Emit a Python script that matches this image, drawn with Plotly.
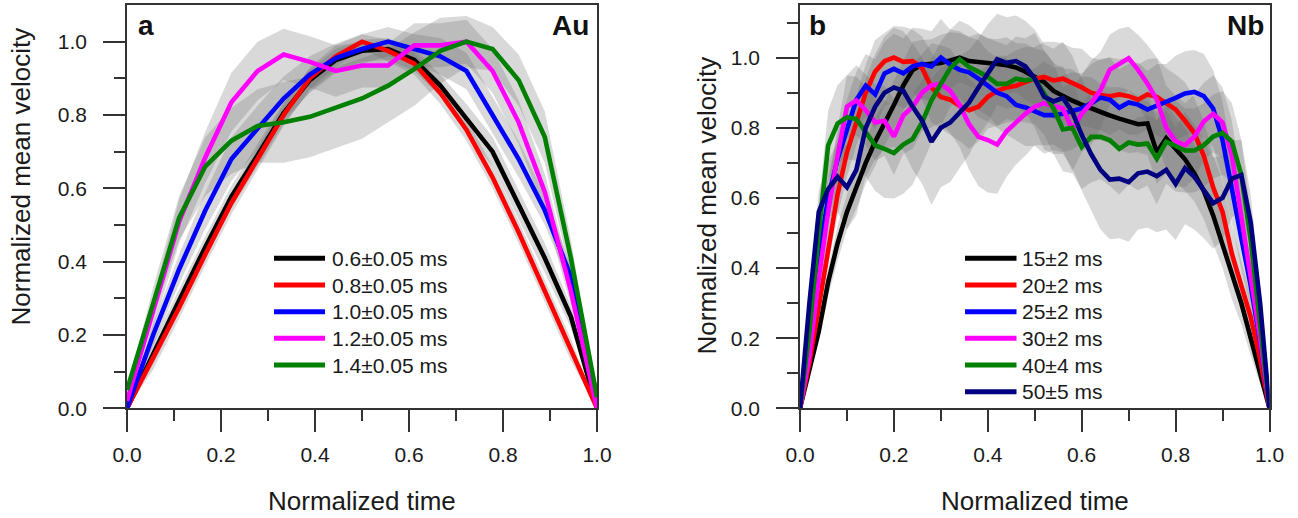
import numpy as np
import plotly.graph_objects as go

W, H = 1298, 518

# ---------------- Panel a : Au ----------------
au_t = [0.0, 0.0556, 0.1111, 0.1667, 0.2222, 0.2778, 0.3333, 0.3889, 0.4444, 0.5,
        0.5556, 0.6111, 0.6667, 0.7222, 0.7778, 0.8333, 0.8889, 0.9444, 1.0]
au_labels = ["0.6\u00b10.05 ms", "0.8\u00b10.05 ms", "1.0\u00b10.05 ms", "1.2\u00b10.05 ms", "1.4\u00b10.05 ms"]
au_06 = [0.0, 0.15, 0.295, 0.44, 0.577, 0.69, 0.805, 0.895, 0.95, 0.975, 0.98, 0.95, 0.88, 0.79, 0.70, 0.555, 0.41, 0.25, 0.0]
au_08 = [0.0, 0.135, 0.275, 0.42, 0.56, 0.68, 0.80, 0.90, 0.96, 1.0, 0.975, 0.94, 0.86, 0.76, 0.63, 0.48, 0.32, 0.16, 0.0]
au_10 = [0.0, 0.20, 0.38, 0.54, 0.68, 0.765, 0.845, 0.91, 0.955, 0.98, 1.0, 0.98, 0.96, 0.92, 0.80, 0.68, 0.54, 0.36, 0.03]
au_12 = [0.02, 0.26, 0.51, 0.685, 0.835, 0.92, 0.965, 0.945, 0.92, 0.935, 0.935, 0.99, 0.99, 1.0, 0.92, 0.78, 0.59, 0.32, 0.0]
au_14 = [0.05, 0.29, 0.52, 0.66, 0.73, 0.77, 0.78, 0.795, 0.82, 0.845, 0.88, 0.925, 0.975, 1.0, 0.98, 0.895, 0.74, 0.41, 0.03]
au_06_sd = [0.0, 0.03, 0.03, 0.03, 0.03, 0.03, 0.03, 0.03, 0.03, 0.03, 0.03, 0.03, 0.03, 0.04, 0.04, 0.04, 0.04, 0.03, 0.0]
au_08_sd = [0.0, 0.03, 0.03, 0.03, 0.03, 0.03, 0.03, 0.03, 0.03, 0.02, 0.03, 0.03, 0.03, 0.03, 0.03, 0.03, 0.03, 0.03, 0.0]
au_10_sd = [0.0, 0.03, 0.04, 0.05, 0.06, 0.06, 0.06, 0.05, 0.04, 0.04, 0.04, 0.04, 0.05, 0.05, 0.05, 0.05, 0.04, 0.03, 0.0]
au_12_sd = [0.0, 0.04, 0.06, 0.07, 0.08, 0.08, 0.07, 0.07, 0.07, 0.06, 0.06, 0.06, 0.06, 0.06, 0.06, 0.06, 0.05, 0.04, 0.0]
au_14_sd = [0.0, 0.04, 0.06, 0.08, 0.09, 0.10, 0.11, 0.11, 0.11, 0.11, 0.10, 0.10, 0.09, 0.07, 0.06, 0.07, 0.07, 0.05, 0.0]

# ---------------- Panel b : Nb ----------------
nb_t = [0.0, 0.02, 0.04, 0.06, 0.08, 0.10, 0.12, 0.14, 0.16, 0.18, 0.20, 0.22, 0.24, 0.26, 0.28,
        0.30, 0.32, 0.34, 0.36, 0.38, 0.40, 0.42, 0.44, 0.46, 0.48, 0.50, 0.52, 0.54, 0.56, 0.58,
        0.60, 0.62, 0.64, 0.66, 0.68, 0.70, 0.72, 0.74, 0.76, 0.78, 0.80, 0.82, 0.84, 0.86, 0.88,
        0.90, 0.92, 0.94, 0.96, 0.98, 1.0]
nb_labels = ["15\u00b12 ms", "20\u00b12 ms", "25\u00b12 ms", "30\u00b12 ms", "40\u00b14 ms", "50\u00b15 ms"]
nb_15 = [0.0, 0.11, 0.22, 0.36, 0.47, 0.56, 0.63, 0.70, 0.76, 0.81, 0.865, 0.92, 0.965, 0.98, 0.982,
         0.985, 0.992, 1.0, 0.99, 0.988, 0.985, 0.982, 0.978, 0.972, 0.96, 0.945, 0.93, 0.905, 0.89, 0.877,
         0.866, 0.855, 0.845, 0.835, 0.826, 0.818, 0.81, 0.812, 0.73, 0.77, 0.74, 0.71, 0.67, 0.62, 0.55,
         0.47, 0.38, 0.30, 0.20, 0.10, 0.0]
nb_20 = [0.0, 0.13, 0.29, 0.46, 0.61, 0.73, 0.82, 0.90, 0.96, 0.99, 1.0, 0.988, 0.99, 0.97, 0.915,
         0.888, 0.88, 0.862, 0.85, 0.86, 0.888, 0.905, 0.915, 0.92, 0.93, 0.94, 0.945, 0.935, 0.94, 0.928,
         0.915, 0.90, 0.893, 0.89, 0.895, 0.89, 0.88, 0.895, 0.888, 0.87, 0.852, 0.82, 0.785, 0.72, 0.63,
         0.56, 0.44, 0.35, 0.26, 0.14, 0.0]
nb_25 = [0.0, 0.20, 0.43, 0.60, 0.71, 0.80, 0.88, 0.92, 0.895, 0.955, 0.968, 0.955, 0.975, 0.982, 0.975,
         1.0, 0.98, 0.965, 0.958, 0.94, 0.918, 0.90, 0.89, 0.865, 0.858, 0.848, 0.836, 0.836, 0.84, 0.848,
         0.855, 0.87, 0.886, 0.88, 0.857, 0.872, 0.866, 0.852, 0.862, 0.872, 0.885, 0.898, 0.902, 0.89, 0.855,
         0.765, 0.62, 0.485, 0.35, 0.19, 0.0]
nb_30 = [0.0, 0.15, 0.37, 0.56, 0.72, 0.86, 0.878, 0.85, 0.815, 0.82, 0.775, 0.835, 0.86, 0.90, 0.921,
         0.925, 0.905, 0.865, 0.81, 0.774, 0.765, 0.752, 0.79, 0.815, 0.84, 0.86, 0.87, 0.862, 0.855, 0.795,
         0.84, 0.87, 0.907, 0.966, 0.982, 0.998, 0.965, 0.926, 0.88, 0.80, 0.762, 0.75, 0.775, 0.818, 0.84,
         0.815, 0.72, 0.55, 0.38, 0.20, 0.0]
nb_40 = [0.0, 0.22, 0.50, 0.75, 0.812, 0.83, 0.825, 0.79, 0.75, 0.74, 0.728, 0.752, 0.768, 0.815, 0.878,
         0.925, 0.97, 0.995, 0.973, 0.96, 0.945, 0.925, 0.925, 0.94, 0.935, 0.94, 0.90, 0.855, 0.795, 0.80,
         0.745, 0.774, 0.774, 0.764, 0.74, 0.758, 0.752, 0.755, 0.712, 0.76, 0.748, 0.735, 0.735, 0.75, 0.775,
         0.785, 0.76, 0.665, 0.48, 0.25, 0.0]
nb_50 = [0.0, 0.30, 0.56, 0.625, 0.66, 0.63, 0.68, 0.80, 0.86, 0.90, 0.915, 0.905, 0.86, 0.82, 0.76,
         0.80, 0.815, 0.845, 0.872, 0.915, 0.955, 0.995, 0.985, 0.99, 0.975, 0.94, 0.888, 0.875, 0.885, 0.845,
         0.78, 0.725, 0.68, 0.652, 0.655, 0.645, 0.67, 0.675, 0.662, 0.68, 0.64, 0.685, 0.66, 0.625, 0.585,
         0.60, 0.655, 0.665, 0.53, 0.30, 0.0]
nb_15_sd = [0.0, 0.02, 0.03, 0.04, 0.05, 0.05, 0.06, 0.06, 0.07, 0.06, 0.07, 0.07, 0.08, 0.07, 0.07,
            0.08, 0.08, 0.07, 0.07, 0.08, 0.07, 0.07, 0.08, 0.07, 0.08, 0.08, 0.09, 0.08, 0.08, 0.09,
            0.08, 0.09, 0.08, 0.08, 0.09, 0.09, 0.08, 0.09, 0.09, 0.10, 0.09, 0.09, 0.08, 0.08, 0.08,
            0.07, 0.07, 0.06, 0.05, 0.03, 0.0]
nb_20_sd = [0.0, 0.03, 0.04, 0.05, 0.06, 0.07, 0.07, 0.08, 0.09, 0.08, 0.09, 0.10, 0.09, 0.09, 0.10,
            0.09, 0.10, 0.10, 0.11, 0.10, 0.09, 0.10, 0.09, 0.10, 0.10, 0.09, 0.10, 0.11, 0.10, 0.10,
            0.11, 0.10, 0.10, 0.11, 0.10, 0.11, 0.10, 0.10, 0.11, 0.10, 0.10, 0.11, 0.10, 0.10, 0.09,
            0.09, 0.08, 0.07, 0.06, 0.04, 0.0]
nb_25_sd = [0.0, 0.03, 0.05, 0.06, 0.07, 0.08, 0.08, 0.09, 0.10, 0.09, 0.10, 0.10, 0.11, 0.10, 0.10,
            0.11, 0.10, 0.11, 0.10, 0.11, 0.10, 0.10, 0.11, 0.10, 0.11, 0.10, 0.11, 0.10, 0.11, 0.11,
            0.10, 0.11, 0.11, 0.12, 0.11, 0.11, 0.12, 0.11, 0.12, 0.11, 0.12, 0.12, 0.12, 0.12, 0.11,
            0.11, 0.10, 0.09, 0.07, 0.05, 0.0]
nb_30_sd = [0.0, 0.04, 0.06, 0.07, 0.08, 0.09, 0.10, 0.10, 0.11, 0.10, 0.11, 0.11, 0.12, 0.11, 0.12,
            0.11, 0.12, 0.12, 0.13, 0.14, 0.15, 0.14, 0.13, 0.12, 0.12, 0.11, 0.12, 0.11, 0.12, 0.12,
            0.11, 0.12, 0.11, 0.10, 0.10, 0.09, 0.10, 0.11, 0.12, 0.12, 0.13, 0.12, 0.12, 0.11, 0.11,
            0.10, 0.10, 0.09, 0.07, 0.05, 0.0]
nb_40_sd = [0.0, 0.05, 0.08, 0.10, 0.11, 0.12, 0.12, 0.13, 0.13, 0.14, 0.13, 0.14, 0.13, 0.12, 0.12,
            0.12, 0.11, 0.11, 0.12, 0.11, 0.11, 0.12, 0.11, 0.12, 0.12, 0.13, 0.12, 0.13, 0.12, 0.13,
            0.12, 0.13, 0.12, 0.13, 0.13, 0.12, 0.13, 0.12, 0.13, 0.12, 0.13, 0.12, 0.12, 0.12, 0.12,
            0.12, 0.11, 0.10, 0.08, 0.05, 0.0]
nb_50_sd = [0.0, 0.04, 0.06, 0.08, 0.10, 0.12, 0.13, 0.14, 0.15, 0.16, 0.17, 0.17, 0.18, 0.18, 0.18,
            0.17, 0.17, 0.16, 0.15, 0.14, 0.14, 0.13, 0.13, 0.13, 0.13, 0.14, 0.15, 0.15, 0.16, 0.16,
            0.16, 0.16, 0.17, 0.17, 0.17, 0.17, 0.16, 0.16, 0.16, 0.17, 0.16, 0.16, 0.15, 0.14, 0.13,
            0.12, 0.11, 0.10, 0.08, 0.05, 0.0]

au_colors = ["#000000", "#ff0000", "#0000ff", "#ff00ff", "#008000"]
nb_colors = ["#000000", "#ff0000", "#0000ff", "#ff00ff", "#008000", "#000080"]

au_series = [au_06, au_08, au_10, au_12, au_14]
au_sds = [au_06_sd, au_08_sd, au_10_sd, au_12_sd, au_14_sd]
nb_series = [nb_15, nb_20, nb_25, nb_30, nb_40, nb_50]
nb_sds = [nb_15_sd, nb_20_sd, nb_25_sd, nb_30_sd, nb_40_sd, nb_50_sd]

BAND_FILL = "rgba(100,100,100,0.245)"
FONT = "Liberation Sans, Arial, Helvetica, sans-serif"
AXC = "#333333"

fig = go.Figure()


def add_panel(t, series, sds, colors, labels, xa, ya):
    t = list(t)
    for v, sd in zip(series, sds):
        v = np.array(v)
        sd = np.array(sd)
        up = (v + sd).tolist()
        lo = (v - sd).tolist()
        fig.add_trace(go.Scatter(x=t + t[::-1], y=up + lo[::-1], fill="toself",
                                 fillcolor=BAND_FILL, line=dict(width=0), mode="lines",
                                 hoverinfo="skip", showlegend=False, xaxis=xa, yaxis=ya))
    for v, c, lab in zip(series, colors, labels):
        fig.add_trace(go.Scatter(x=t, y=v, mode="lines", name=lab,
                                 line=dict(color=c, width=4.6), showlegend=False,
                                 xaxis=xa, yaxis=ya))


add_panel(au_t, au_series, au_sds, au_colors, au_labels, "x", "y")
add_panel(nb_t, nb_series, nb_sds, nb_colors, nb_labels, "x2", "y2")


# convert pixel positions (as measured on the reference) to paper fractions
def px(x):
    return x / W


def py(y):
    return 1 - y / H


xticks = [0, 0.2, 0.4, 0.6, 0.8, 1.0]
xticktext = ["0.0", "0.2", "0.4", "0.6", "0.8", "1.0"]
yticks = [0, 0.2, 0.4, 0.6, 0.8, 1.0]
yticktext = ["0.0", "0.2", "0.4", "0.6", "0.8", "1.0"]


def xaxis(domain, anchor):
    return dict(domain=domain, anchor=anchor, range=[0, 1], tickvals=xticks, ticktext=xticktext,
                ticks="outside", ticklen=22, tickwidth=1.5, tickcolor=AXC, automargin=False,
                showline=True, linecolor=AXC, linewidth=1.5, mirror=True,
                showgrid=False, zeroline=False, ticklabelstandoff=5,
                tickfont=dict(family=FONT, size=21, color="#1a1a1a"),
                minor=dict(tickvals=[0.1, 0.3, 0.5, 0.7, 0.9], ticks="outside", ticklen=11,
                           tickwidth=1.5, tickcolor=AXC, showgrid=False))


def yaxis(domain, anchor, top, minor_vals):
    return dict(domain=domain, anchor=anchor, range=[0, top], tickvals=yticks, ticktext=yticktext,
                ticks="outside", ticklen=22, tickwidth=1.5, tickcolor=AXC, automargin=False,
                showline=True, linecolor=AXC, linewidth=1.5, mirror=True,
                showgrid=False, zeroline=False, ticklabelstandoff=12,
                tickfont=dict(family=FONT, size=21, color="#1a1a1a"),
                minor=dict(tickvals=minor_vals, ticks="outside", ticklen=11,
                           tickwidth=1.5, tickcolor=AXC, showgrid=False))


ydom = [py(408.3), py(5)]
fig.update_layout(
    template="none",
    width=W, height=H, margin=dict(l=0, r=0, t=0, b=0, pad=0), autosize=False,
    paper_bgcolor="white", plot_bgcolor="white", showlegend=False,
    font=dict(family=FONT, color="#1a1a1a"),
    xaxis=xaxis([px(127), px(597)], "y"),
    yaxis=yaxis(ydom, "x", 1.1, [0.1, 0.3, 0.5, 0.7, 0.9]),
    xaxis2=xaxis([px(800), px(1269.5)], "y2"),
    yaxis2=yaxis(ydom, "x2", 1.15, [0.1, 0.3, 0.5, 0.7, 0.9, 1.1]),
)

ann = []
shapes = []
# axis titles
for cx in (362, 1035):
    ann.append(dict(x=px(cx), y=py(501), xref="paper", yref="paper", text="Normalized time",
                    showarrow=False, xanchor="center", yanchor="middle",
                    font=dict(family=FONT, size=26, color="#1a1a1a")))
for cx, cy in ((21, 176.5), (706.5, 206)):
    ann.append(dict(x=px(cx), y=py(cy), xref="paper", yref="paper", text="Normalized mean velocity",
                    textangle=-90, showarrow=False, xanchor="center", yanchor="middle",
                    font=dict(family=FONT, size=26, color="#1a1a1a")))
# panel labels
for x, anchor, txt in ((136, "left", "a"), (591, "right", "Au"), (807, "left", "b"), (1266, "right", "Nb")):
    ann.append(dict(x=px(x), y=py(25), xref="paper", yref="paper", text="<b>%s</b>" % txt,
                    showarrow=False, xanchor=anchor, yanchor="middle",
                    font=dict(family=FONT, size=28, color="#111111")))

# legends
au_rows = [258.3, 285, 311.7, 338.3, 365]
nb_rows = [258.3, 285, 311.7, 338.3, 365, 391.7]
for rows, colors, labels, x0, x1, xt in ((au_rows, au_colors, au_labels, 274, 325, 330),
                                          (nb_rows, nb_colors, nb_labels, 965, 1016.5, 1020)):
    for r, c, lab in zip(rows, colors, labels):
        shapes.append(dict(type="line", xref="paper", yref="paper", x0=px(x0), x1=px(x1),
                           y0=py(r), y1=py(r), line=dict(color=c, width=5)))
        ann.append(dict(x=px(xt), y=py(r), xref="paper", yref="paper", text=lab,
                        showarrow=False, xanchor="left", yanchor="middle",
                        font=dict(family=FONT, size=21, color="#1a1a1a")))

fig.update_layout(annotations=ann, shapes=shapes)
# remove the browser's default 8px page margin so the figure sits at the window origin
fig.write_html("out.html", config={"displayModeBar": False},
               post_script="document.body.style.margin='0px';document.body.style.overflow='hidden';")
